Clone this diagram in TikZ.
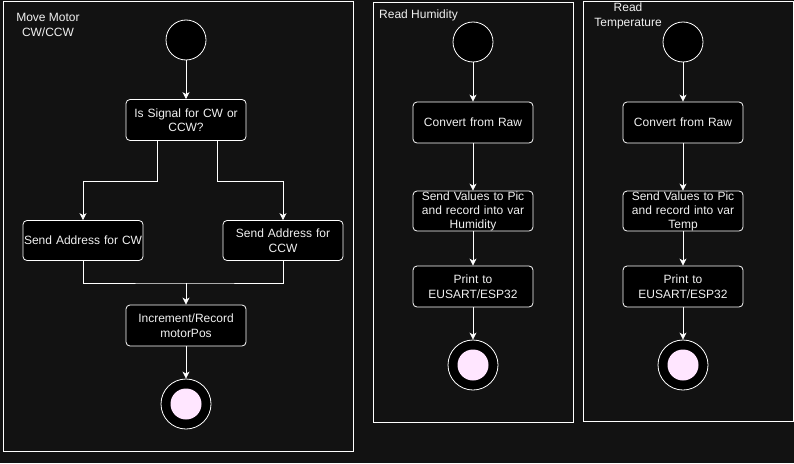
\documentclass[tikz,border=0pt]{standalone}
\usepackage{fontspec}
\setmainfont{Liberation Sans}
\usetikzlibrary{arrows.meta}
\definecolor{bg}{HTML}{121212}
\definecolor{fg}{HTML}{F0F0F0}
\definecolor{endpink}{HTML}{FFE6FF}
\hyphenpenalty=10000
\begin{document}
\begin{tikzpicture}[x=1pt,y=-1pt,
 panel/.style={draw=white,line width=1pt},
 act/.style={draw=white,fill=black,rounded corners=4pt,minimum width=120pt,minimum height=41pt,inner xsep=1pt,inner ysep=1pt,text width=118pt,align=center,text=fg,font=\fontsize{12}{14.5}\selectfont,line width=0.8pt},
 act3/.style={act,inner ysep=0pt,minimum height=40pt,font=\fontsize{12}{14}\selectfont},
 start/.style={circle,draw=white,fill=black,minimum size=40pt,inner sep=0pt,line width=0.8pt},
 endo/.style={circle,draw=white,fill=black,minimum size=50pt,inner sep=0pt,line width=0.8pt},
 endi/.style={circle,fill=endpink,minimum size=31pt,inner sep=0pt},
 arr/.style={draw=white,line width=0.8pt,-{Stealth[length=7pt,width=7pt,inset=2pt]}},
 conn/.style={draw=white,line width=0.8pt},
 title/.style={text=fg,font=\fontsize{12}{15}\selectfont,align=center,inner sep=0pt}]
\fill[bg] (0,0) rectangle (794,463);
\useasboundingbox (0,0) rectangle (794,463);
% panels
\draw[panel] (3,1) rectangle (353,451);
\draw[panel] (373,2) rectangle (573,422);
\draw[panel] (583,1) rectangle (793,421);
% titles
\node[title] (t1) at (48,24.5) {Move Motor\\CW/CCW};
\node[title,anchor=west] (t2) at (379,15.5) {Read Humidity};
\node[title] (t3) at (628,15.5) {Read\\Temperature};
% panel 1
\node[start] (s1) at (186,40) {};
\node[act] (q) at (186,120) {Is Signal for CW or\\CCW?};
\node[act,minimum height=40pt] (cw) at (83,240.5) {\mbox{Send Address for CW}};
\node[act,minimum height=40pt] (ccw) at (283,240.5) {Send Address for\\CCW};
\node[act] (inc) at (186,325.5) {Increment/Record\\motorPos};
\node[endo] (e1) at (186,404) {};
\node[endi] (e1i) at (186,404) {};
\coordinate (bl) at (157,181);
\coordinate (br) at (217,181);
\coordinate (jn) at (186,283);
\draw[arr] (s1) -- (q);
\draw[arr] (q.south -| bl) -- (bl) -| (cw.north);
\draw[arr] (q.south -| br) -- (br) -| (ccw.north);
\draw[conn] (cw.south) |- (jn) -| (ccw.south);
\draw[arr] (jn) -- (inc.north);
\draw[arr] (inc) -- (e1);
% panel 2
\node[start] (s2) at (473,42) {};
\node[act] (c2) at (473,122.5) {Convert from Raw};
\node[act3] (v2) at (473,211) {Send Values to Pic\\and record into var\\Humidity};
\node[act] (p2) at (473,286.5) {Print to\\EUSART/ESP32};
\node[endo] (e2) at (473,365) {};
\node[endi] (e2i) at (473,365) {};
\draw[arr] (s2) -- (c2);
\draw[arr] (c2) -- (v2);
\draw[arr] (v2) -- (p2);
\draw[arr] (p2) -- (e2);
% panel 3
\node[start] (s3) at (683,42) {};
\node[act] (c3) at (683,122.5) {Convert from Raw};
\node[act3] (v3) at (683,211) {Send Values to Pic\\and record into var\\Temp};
\node[act] (p3) at (683,286.5) {Print to\\EUSART/ESP32};
\node[endo] (e3) at (683,365) {};
\node[endi] (e3i) at (683,365) {};
\draw[arr] (s3) -- (c3);
\draw[arr] (c3) -- (v3);
\draw[arr] (v3) -- (p3);
\draw[arr] (p3) -- (e3);
\end{tikzpicture}
\end{document}
